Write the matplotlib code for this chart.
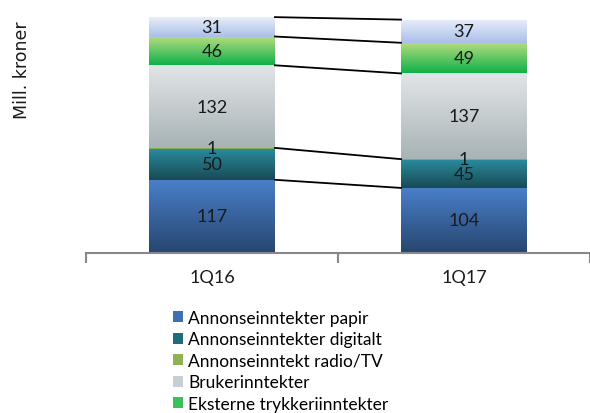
import numpy as np
import matplotlib
matplotlib.use("Agg")
import matplotlib.pyplot as plt
from matplotlib.colors import LinearSegmentedColormap
from matplotlib.patches import Patch

plt.rcParams['font.family'] = ['Lato', 'DejaVu Sans']

quarters = ["1Q16", "1Q17"]
series = ["Annonseinntekter papir", "Annonseinntekter digitalt", "Annonseinntekt radio/TV",
          "Brukerinntekter", "Eksterne trykkeriinntekter", ""]
values = [
    [117, 104],
    [50, 45],
    [1, 1],
    [132, 137],
    [46, 49],
    [31, 37],
]
# gradient colours (top, bottom) per series
grad = [
    ("#4a7fc9", "#27466f"),
    ("#2a8c9e", "#184a55"),
    ("#a8cc6a", "#6f9a3a"),
    ("#e2e5e8", "#a7b3b5"),
    ("#b6dc7e", "#0fb14a"),
    ("#e9eef9", "#a9bfe9"),
]
legend_col = ["#3f6fb5", "#1f6c7c", "#8fb255", "#c8cfd2", "#3cc05a"]

fig = plt.figure(figsize=(5.9, 4.14), dpi=100)
ax = fig.add_axes([86/590, 1-254/414, 1-86/590, 244/414])

x = np.arange(len(quarters))
bottom = np.zeros(len(quarters))
tops = []
for i, vals in enumerate(values):
    bars = ax.bar(x, vals, width=0.5, bottom=bottom, color="none", edgecolor="none")
    cmap = LinearSegmentedColormap.from_list("g%d" % i, [grad[i][1], grad[i][0]])
    for b in bars:
        bx, by = b.get_x(), b.get_y()
        w, h = b.get_width(), b.get_height()
        im = ax.imshow(np.linspace(0, 1, 100).reshape(-1, 1), cmap=cmap, aspect="auto",
                       origin="lower", extent=[bx, bx + w, by, by + h], zorder=1)
        im.set_clip_path(b)
    for j, v in enumerate(vals):
        ax.text(x[j], bottom[j] + v / 2, str(v), ha="center", va="center",
                fontsize=13, color="#1a1a1a", zorder=3)
    bottom = bottom + np.array(vals)
    tops.append(bottom.copy())

# connector lines between the two bars
for i in [0, 2, 3, 4, 5]:
    ax.plot([x[0] + 0.25, x[1] - 0.25], [tops[i][0], tops[i][1]], color="black", lw=1.3, zorder=2)

ax.set_xlim(-0.5, 1.5)
ax.set_ylim(0, 390)
for s in ["top", "right", "left"]:
    ax.spines[s].set_visible(False)
ax.spines["bottom"].set_color("#888888")
ax.spines["bottom"].set_linewidth(1.5)
ax.set_yticks([])
ax.set_xticks([-0.5, 0.5, 1.5])
ax.set_xticklabels([])
ax.tick_params(axis="x", length=7, width=1.5, color="#888888")
for j, q in enumerate(quarters):
    ax.text(x[j], -38, q, ha="center", va="center", fontsize=13, color="#1a1a1a")

fig.text(22/590, 1-70/414, "Mill. kroner", rotation=90, ha="center", va="center",
         fontsize=12.5, family="DejaVu Sans", color="#1a1a1a")

handles = [Patch(facecolor=c, edgecolor="none") for c in legend_col]
fig.legend(handles, series[:5], loc="upper left", bbox_to_anchor=(164/590, 1-302/414),
           frameon=False, fontsize=12.5, handlelength=0.6, handleheight=0.6,
           handletextpad=0.3, labelspacing=0.32, borderpad=0)

fig.savefig("out.png", dpi=100)
